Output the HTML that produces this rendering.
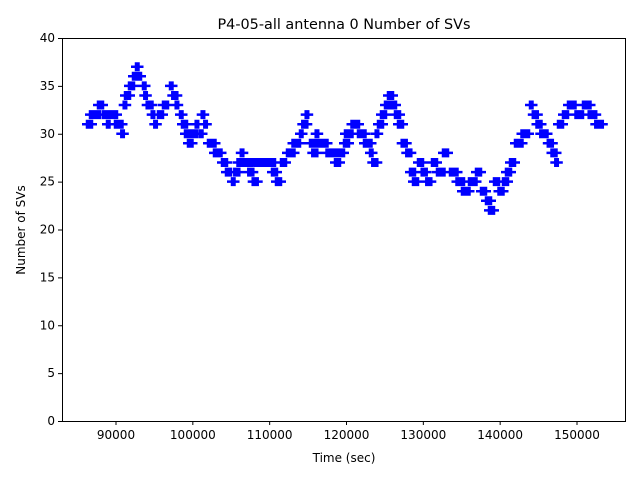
<!DOCTYPE html><html><head><style>body{margin:0;background:#fff}svg text{font-family:"DejaVu Sans","Liberation Sans",sans-serif}</style></head><body>
<svg id="s" width="640" height="480" xmlns="http://www.w3.org/2000/svg">
<rect width="640" height="480" fill="#fff"/>
<g id="m" stroke="#0000ff" stroke-width="2.5" fill="none"></g>
<rect x="62.5" y="38.5" width="563" height="383" fill="none" stroke="#000" stroke-width="1"/>
<g stroke="#000" stroke-width="1" id="ticks"></g>
<g font-size="12" fill="#000" id="lbl"></g>
<text x="344" y="29" font-size="14.4" text-anchor="middle">P4-05-all antenna 0 Number of SVs</text>
<text x="344" y="462" font-size="12" text-anchor="middle">Time (sec)</text>
<text transform="translate(25,230) rotate(-90)" font-size="12" text-anchor="middle">Number of SVs</text>
</svg>
<script>
var NS="http://www.w3.org/2000/svg";
function Y(v){return 421-v*9.575;}
var t=document.getElementById('ticks'),l=document.getElementById('lbl');
function el(p,n,a,txt){var e=document.createElementNS(NS,n);for(var k in a)e.setAttribute(k,a[k]);if(txt)e.textContent=txt;p.appendChild(e);}
for(var v=0;v<=40;v+=5){var y=Y(v);el(t,'line',{x1:58,x2:62,y1:y+.5,y2:y+.5});el(l,'text',{x:55,y:y+4,'text-anchor':'end'},String(v));}
for(var x=90000;x<=150000;x+=10000){var px=116+(x-90000)*461/60000;el(t,'line',{x1:px,x2:px,y1:421,y2:425});el(l,'text',{x:px,y:439,'text-anchor':'middle'},String(x));}
var seg=[[87,93,[31]],[90,100,[32]],[98,110,[33,32]],[107,113,[31,32]],[112,120,[32,31]],[120,127,[31,30,33]],[125,135,[34,35]],[133,140,[36]],[136,143,[37,36]],[143,150,[35,34,33]],[150,158,[33,32,31]],[158,170,[32,33]],[170,180,[35,34,33]],[180,192,[32,31,30,29]],[190,200,[29,30,31]],[200,208,[30,32,31]],[208,222,[29,28]],[222,232,[27,26]],[232,245,[25,26,27,28]],[245,258,[27,26,25]],[250,275,[27]],[272,287,[26,25,27]],[287,300,[28,29]],[300,310,[30,31,32]],[310,320,[29,28,30]],[315,340,[29,28]],[335,350,[27,28,29]],[345,360,[30,31]],[358,372,[30,29]],[370,380,[28,27,30]],[378,390,[31,32,33]],[388,400,[34,33,32]],[398,412,[31,29,28]],[410,418,[26,25]],[418,432,[27,26,25]],[432,450,[27,26,28]],[450,465,[26,25]],[462,478,[24,25]],[476,488,[26,24]],[486,494,[23,22]],[494,505,[25,24]],[503,515,[25,26,27]],[515,530,[29,30]],[530,545,[33,32,31,30]],[545,560,[30,29,28,27]],[558,570,[31,32]],[568,585,[33,32]],[583,603,[33,32,31]]];
var d="";
seg.forEach(function(s){var n=s[2].length;for(var i=0;i<n;i++){var v=s[2][i],y=Y(v);var a=s[0]+(s[1]-s[0])*i/n-1,b=s[0]+(s[1]-s[0])*(i+1)/n+1;if(i==0)a=s[0];if(i==n-1)b=s[1];for(var x=a;x<=b;x+=2.5){d+="M"+(x-5).toFixed(1)+" "+y.toFixed(1)+"h10M"+x.toFixed(1)+" "+(y-4.5).toFixed(1)+"v9";}}});
el(document.getElementById('m'),'path',{d:d});
</script>
</body></html>
